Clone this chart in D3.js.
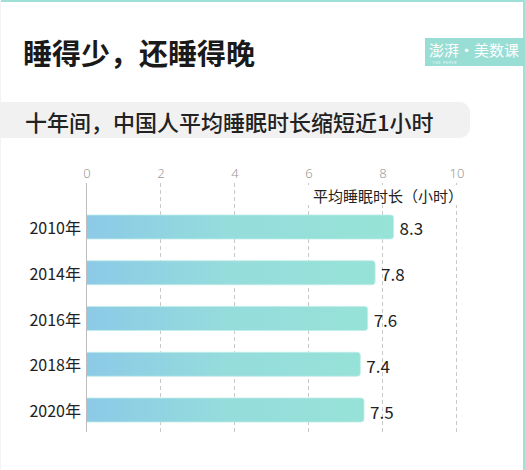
<!DOCTYPE html>
<html>
<head>
<meta charset="utf-8">
<script src="https://cdn.jsdelivr.net/npm/d3@7"></script>
<style>
  html, body { margin: 0; padding: 0; background: #fff; }
  svg { display: block; }
  text { font-family: "Noto Sans CJK SC", "Noto Sans", sans-serif; }
</style>
</head>
<body>
<svg id="chart" width="525" height="470"></svg>
<script>
const title = "睡得少，还睡得晚";
const subtitle = "十年间，中国人平均睡眠时长缩短近1小时";
const axisTitle = "平均睡眠时长（小时）";
const years = ["2010年", "2014年", "2016年", "2018年", "2020年"];
const hours = [8.3, 7.8, 7.6, 7.4, 7.5];
const tickValues = [0, 2, 4, 6, 8, 10];

const svg = d3.select("#chart");
const W = 525, H = 470;

// frame
svg.append("rect").attr("x", 0).attr("y", 0).attr("width", W).attr("height", H).attr("fill", "#fff");
svg.append("rect").attr("x", 0).attr("y", 0).attr("width", W).attr("height", 2).attr("fill", "#9fe0d8");
svg.append("rect").attr("x", W - 2).attr("y", 0).attr("width", 2).attr("height", H).attr("fill", "#9fe0d8");
svg.append("rect").attr("x", 0).attr("y", 0).attr("width", 1).attr("height", H).attr("fill", "#f4f4f4");

// title
svg.append("text").attr("x", 23).attr("y", 52).attr("dominant-baseline", "central")
  .attr("font-size", 29).attr("font-weight", 700).attr("fill", "#1a1a1a").text(title);

// logo
svg.append("rect").attr("x", 425).attr("y", 38).attr("width", 100).attr("height", 28).attr("fill", "#99ded5");
svg.append("text").attr("x", 474).attr("y", 49).attr("dominant-baseline", "central").attr("text-anchor", "middle")
  .attr("font-size", 15).attr("fill", "#fff").text("澎湃·美数课");
svg.append("text").attr("x", 445).attr("y", 62.5).attr("dominant-baseline", "central").attr("text-anchor", "middle")
  .attr("font-size", 3).attr("fill", "#fff").attr("letter-spacing", 1).text("THE PAPER");

// subtitle
svg.append("rect").attr("x", -12).attr("y", 102).attr("width", 482).attr("height", 36).attr("rx", 10)
  .attr("fill", "#f1f1f1");
svg.append("text").attr("x", 25).attr("y", 121).attr("dominant-baseline", "central")
  .attr("font-size", 22).attr("font-weight", 500).attr("fill", "#222").text(subtitle);

// scales
const x = d3.scaleLinear().domain([0, 10]).range([86.5, 456.5]);
const y = d3.scaleBand().domain(years).range([204, 433]).paddingInner(0.475).paddingOuter(0.24);

// gradient
const defs = svg.append("defs");
const grad = defs.append("linearGradient").attr("id", "barGrad")
  .attr("gradientUnits", "userSpaceOnUse").attr("x1", x(0)).attr("x2", x(8.3)).attr("y1", 0).attr("y2", 0);
grad.append("stop").attr("offset", "0%").attr("stop-color", "#8ccae7");
grad.append("stop").attr("offset", "45%").attr("stop-color", "#95dcdc");
grad.append("stop").attr("offset", "100%").attr("stop-color", "#97e3d7");

// axis ticks at top
const axis = d3.axisTop(x).tickValues(tickValues).tickSize(0).tickPadding(0).tickFormat(d3.format("d"));
const axG = svg.append("g").attr("transform", "translate(0,173)").call(axis);
axG.select(".domain").remove();
axG.selectAll("text").attr("font-size", 13).attr("fill", "#9a9a9a")
  .attr("dominant-baseline", "central").attr("dy", null).attr("y", 0)
  .style("font-family", "'Noto Sans', sans-serif").style("font-weight", 300);

// gridlines
svg.append("g").selectAll("line").data(tickValues).join("line")
  .attr("x1", d => x(d)).attr("x2", d => x(d))
  .attr("y1", 183).attr("y2", 432)
  .attr("stroke", d => d === 0 ? "#c4c4c4" : "#c8c8c8")
  .attr("stroke-width", 1)
  .attr("stroke-dasharray", d => d === 0 ? null : "4,3");

// axis title with white backing
svg.append("rect").attr("x", 305).attr("y", 185).attr("width", 162).attr("height", 20).attr("fill", "#fff");
svg.append("text").attr("x", 463).attr("y", 195).attr("dominant-baseline", "central").attr("text-anchor", "end")
  .attr("font-size", 15).attr("fill", "#222").text(axisTitle);

// bars
const data = years.map((yr, i) => ({ yr, v: hours[i] }));
svg.append("g").selectAll("path").data(data).join("path")
  .attr("d", d => {
    const x0 = x(0), x1 = x(d.v), y0 = y(d.yr), h = y.bandwidth(), r = 3;
    return `M${x0},${y0} H${x1 - r} Q${x1},${y0} ${x1},${y0 + r} V${y0 + h - r} Q${x1},${y0 + h} ${x1 - r},${y0 + h} H${x0} Z`;
  })
  .attr("fill", "url(#barGrad)")
  .attr("stroke", "#bfeee8").attr("stroke-width", 0.8);

// redraw zero line on top of bars
svg.append("line").attr("x1", x(0)).attr("x2", x(0)).attr("y1", 183).attr("y2", 432)
  .attr("stroke", "#bdbdbd").attr("stroke-width", 1);

// year labels
svg.append("g").selectAll("text").data(data).join("text")
  .attr("x", 81).attr("y", d => y(d.yr) + y.bandwidth() / 2)
  .attr("dominant-baseline", "central").attr("text-anchor", "end")
  .attr("font-size", 16).attr("fill", "#222").text(d => d.yr);

// value labels
svg.append("g").selectAll("text").data(data).join("text")
  .attr("x", d => x(d.v) + 6).attr("y", d => y(d.yr) + y.bandwidth() / 2 + 1)
  .attr("dominant-baseline", "central")
  .attr("font-size", 17).attr("fill", "#222").text(d => d3.format(".1f")(d.v));
</script>
</body>
</html>
